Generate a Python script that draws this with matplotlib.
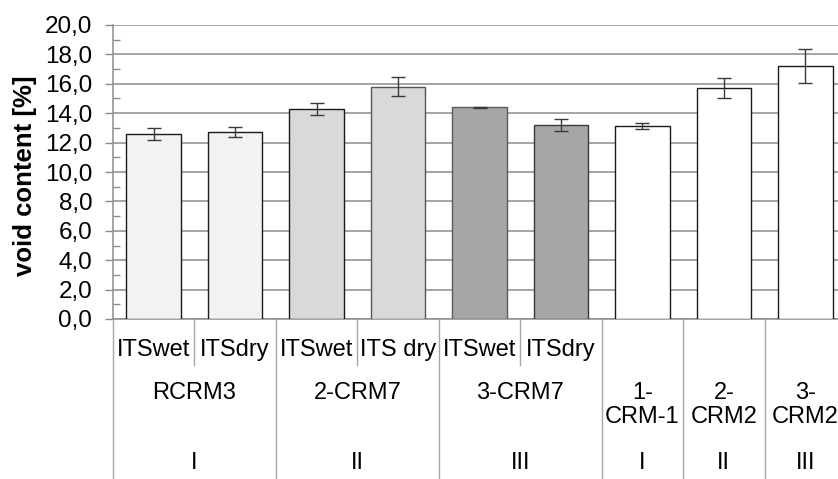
import matplotlib
matplotlib.use("Agg")
import matplotlib.pyplot as plt
import matplotlib.transforms as mtransforms
from matplotlib.ticker import FuncFormatter, MultipleLocator

plt.rcParams['font.family'] = ['Liberation Sans', 'DejaVu Sans']

# ---- data ----
sub_labels = ["ITSwet", "ITSdry", "ITSwet", "ITS dry", "ITSwet", "ITSdry", "", "", ""]
values = [12.6, 12.7, 14.3, 15.8, 14.4, 13.2, 13.1, 15.7, 17.2]
errors = [0.4, 0.35, 0.42, 0.65, 0.03, 0.42, 0.2, 0.7, 1.15]
mix_labels = ["RCRM3", "2-CRM7", "3-CRM7", "1-\nCRM-1", "2-\nCRM2", "3-\nCRM2"]
mix_spans = [2, 2, 2, 1, 1, 1]
level_labels = ["I", "II", "III", "I", "II", "III"]
bar_colors = ["#f2f2f2", "#f2f2f2", "#d9d9d9", "#d9d9d9", "#a6a6a6", "#a6a6a6",
              "#ffffff", "#ffffff", "#ffffff"]
edge_colors = ["#1a1a1a", "#1a1a1a", "#1a1a1a", "#555555", "#5a5a5a", "#3a3a3a",
               "#1a1a1a", "#1a1a1a", "#1a1a1a"]
y_label = "void content [%]"

W, H = 838, 479
fig = plt.figure(figsize=(W / 100, H / 100), dpi=100)
x0, x1 = 113, 846
ytop, ybot = 25, 319
ax = fig.add_axes([x0 / W, 1 - ybot / H, (x1 - x0) / W, (ybot - ytop) / H])

n = len(values)
xs = list(range(n))
ax.bar(xs, values, width=0.67, color=bar_colors, edgecolor=edge_colors, linewidth=1.0, zorder=3)
ax.errorbar(xs, values, yerr=errors, fmt='none', ecolor='#3a3a3a', elinewidth=1.0,
            capsize=5, capthick=1.0, zorder=4)

ax.set_xlim(-0.5, n - 0.5)
ax.set_ylim(0, 20)
ax.yaxis.set_major_locator(MultipleLocator(2))
ax.yaxis.set_minor_locator(MultipleLocator(1))
ax.yaxis.set_major_formatter(FuncFormatter(lambda v, p: f"{v:.1f}".replace('.', ',')))
ax.tick_params(axis='y', which='major', direction='out', length=6, width=1,
               color='#8c8c8c', labelsize=17.5, pad=9)
ax.tick_params(axis='y', which='minor', direction='in', length=5, width=1, color='#8c8c8c')
ax.set_xticks([])
ax.grid(axis='y', which='major', color='#8c8c8c', linewidth=1.1, zorder=0)
ax.set_axisbelow(True)
for s in ['top', 'right']:
    ax.spines[s].set_visible(False)
for s in ['left', 'bottom']:
    ax.spines[s].set_color('#8c8c8c')
    ax.spines[s].set_linewidth(1.1)

fig.text(25 / W, 1 - 176 / H, y_label, rotation=90, ha='center', va='center',
         fontsize=18.5, fontweight='bold')

# ---- multi-level category axis ----
trans = mtransforms.blended_transform_factory(ax.transData, ax.transAxes)
def ay(px):
    return (ybot - px) / (ybot - ytop)

sep_color = '#a6a6a6'
for i, lab in enumerate(sub_labels):
    if lab:
        ax.text(i, ay(350), lab, transform=trans, ha='center', va='center',
                fontsize=17, clip_on=False)
start = 0
bounds = [-0.5]
for sp in mix_spans:
    start += sp
    bounds.append(start - 0.5)
for i in range(n - 1):
    b = i + 0.5
    if b not in bounds:
        ax.plot([b, b], [0, ay(365)], transform=trans, color=sep_color, lw=1.0, clip_on=False)
for b in bounds:
    ax.plot([b, b], [0, ay(H + 5)], transform=trans, color=sep_color, lw=1.0, clip_on=False)

for k, (lab, lev) in enumerate(zip(mix_labels, level_labels)):
    c = (bounds[k] + bounds[k + 1]) / 2
    ax.text(c, ay(382), lab, transform=trans, ha='center', va='top', fontsize=17,
            linespacing=1.1, clip_on=False)
    ax.text(c, ay(463), lev, transform=trans, ha='center', va='center', fontsize=17,
            clip_on=False)

fig.savefig("out.png", dpi=100)
